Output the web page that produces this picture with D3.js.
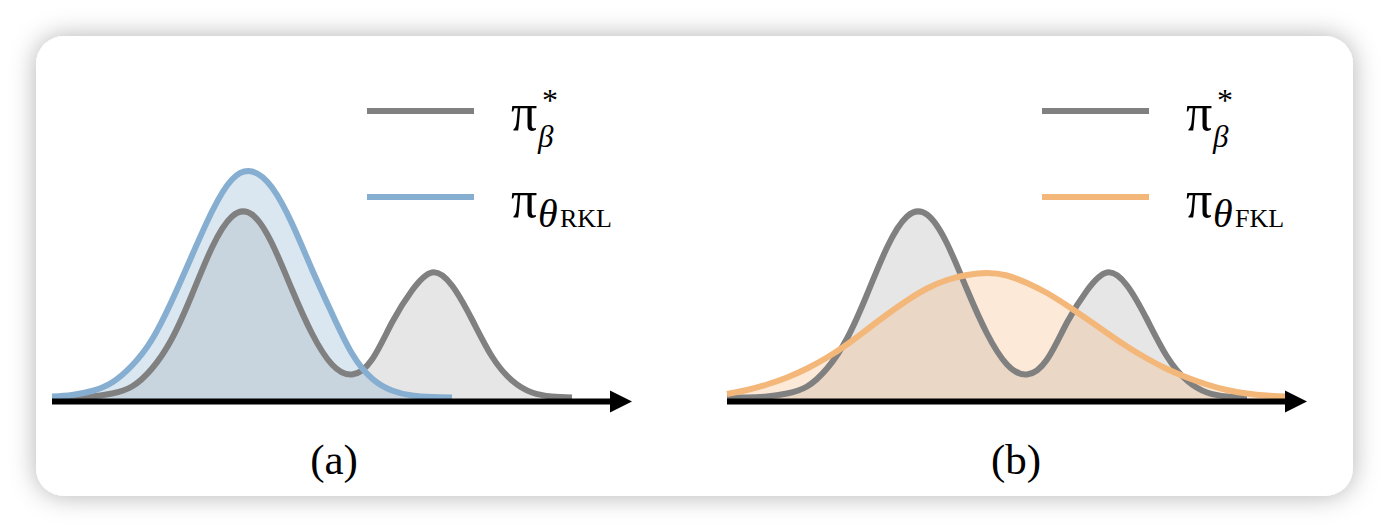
<!DOCTYPE html>
<html>
<head>
    <meta charset="utf-8">
    <title>RKL vs FKL</title>
    <script src="https://cdn.jsdelivr.net/npm/d3@7"></script>
    <style>
        body { margin: 0; background: #fff; }
        text { font-family: "Liberation Serif", "Times New Roman", serif; fill: #000; }
    </style>
</head>
<body>
<script>
var W = 1390, H = 532;

// density heights, one value per step along the axis
var target = [0.00, 0.00, 0.01, 0.04, 0.11, 0.29, 0.59, 1.03, 1.50, 1.81, 1.83, 1.54, 1.08, 0.64,
              0.33, 0.23, 0.38, 0.75, 1.07, 1.25, 1.12, 0.78, 0.41, 0.17, 0.05, 0.01, 0.00];
var rklFit = [0.01, 0.025, 0.065, 0.15, 0.32, 0.58, 0.97, 1.42, 1.86, 2.18, 2.26, 2.10, 1.74, 1.28,
              0.84, 0.44, 0.19, 0.07, 0.02, 0.005, 0.00];
var fklFit = [0.035, 0.075, 0.13, 0.20, 0.29, 0.40, 0.53, 0.68, 0.83, 0.97, 1.09, 1.175, 1.225, 1.245,
              1.22, 1.145, 1.045, 0.92, 0.785, 0.645, 0.51, 0.39, 0.285, 0.20, 0.13, 0.075, 0.04, 0.02, 0.01];

var panelNames = ["(a)", "(b)"];
var fitSeries = [rklFit, fklFit];
var fitSubs = ["RKL", "FKL"];
var fitColors = ["#86aed1", "#f4b77a"];
var grayColor = "#808080";

var svg = d3.select("body").append("svg")
    .attr("width", W)
    .attr("height", H);

// card shadow
var filter = svg.append("defs").append("filter")
    .attr("id", "shadow")
    .attr("x", "-10%").attr("y", "-20%")
    .attr("width", "120%").attr("height", "140%");
filter.append("feDropShadow")
    .attr("dx", 0).attr("dy", 0)
    .attr("stdDeviation", 13)
    .attr("flood-color", "#000")
    .attr("flood-opacity", 0.3);

svg.append("rect").attr("width", W).attr("height", H).attr("fill", "#fff");
svg.append("rect")
    .attr("x", 36).attr("y", 36)
    .attr("width", 1317).attr("height", 460)
    .attr("rx", 28)
    .attr("fill", "#fff")
    .attr("filter", "url(#shadow)");

var x = d3.scaleLinear().domain([0, 29]).range([52, 632]);
var y = d3.scaleLinear().domain([0, 2.5]).range([397.5, 147.5]);
var axisY = 401.5;

var area = d3.area()
    .x(function(d, i) { return x(i); })
    .y0(axisY)
    .y1(function(d) { return y(d); })
    .curve(d3.curveNatural);
var line = d3.line()
    .x(function(d, i) { return x(i); })
    .y(function(d) { return y(d); })
    .curve(d3.curveNatural);

panelNames.forEach(function(name, k) {
    var g = svg.append("g").attr("transform", "translate(" + (675 * k) + ",0)");
    var fit = fitSeries[k];
    var col = fitColors[k];

    // fills
    g.append("path").attr("d", area(target)).attr("fill", grayColor).attr("fill-opacity", 0.2);
    g.append("path").attr("d", area(fit)).attr("fill", col).attr("fill-opacity", 0.3);
    // outlines
    g.append("path").attr("d", line(target))
        .attr("fill", "none").attr("stroke", grayColor).attr("stroke-width", 6);
    g.append("path").attr("d", line(fit))
        .attr("fill", "none").attr("stroke", col).attr("stroke-width", 6);

    // x axis with arrow
    g.append("line")
        .attr("x1", x(0)).attr("x2", x(28.45))
        .attr("y1", axisY).attr("y2", axisY)
        .attr("stroke", "#000").attr("stroke-width", 6);
    var tip = x(29);
    g.append("path")
        .attr("d", "M" + tip + "," + axisY + "L" + (tip - 22) + "," + (axisY - 11) +
                   "L" + (tip - 22) + "," + (axisY + 11) + "Z")
        .attr("fill", "#000");

    // panel label
    g.append("text")
        .attr("x", k === 0 ? 334 : 341)
        .attr("y", 474)
        .attr("text-anchor", "middle")
        .style("font-size", "43px")
        .text(name);

    // legend
    var rows = [{ c: grayColor, y: 111 }, { c: col, y: 197 }];
    g.selectAll(".leg").data(rows).enter().append("line")
        .attr("x1", 367).attr("x2", 474)
        .attr("y1", function(d) { return d.y; })
        .attr("y2", function(d) { return d.y; })
        .attr("stroke", function(d) { return d.c; })
        .attr("stroke-width", 6);

    // pi*_beta : one text, sup and sub stacked with tspans
    var t1 = g.append("text").attr("x", 511).attr("y", 130);
    t1.append("tspan").style("font-size", "52px").text("π");
    t1.append("tspan").attr("x", 542).attr("y", 111).style("font-size", "32px").text("*");
    t1.append("tspan").attr("x", 538).attr("y", 147).style("font-size", "31px")
        .style("font-style", "italic").text("β");

    // pi_theta_xxx
    var t2 = g.append("text").attr("x", 511).attr("y", 217);
    t2.append("tspan").style("font-size", "52px").text("π");
    t2.append("tspan").attr("x", 538).attr("y", 227).style("font-size", "40px")
        .style("font-style", "italic").text("θ");
    t2.append("tspan").attr("x", 560).attr("y", 227).style("font-size", "26px").text(fitSubs[k]);
});
</script>
</body>
</html>
